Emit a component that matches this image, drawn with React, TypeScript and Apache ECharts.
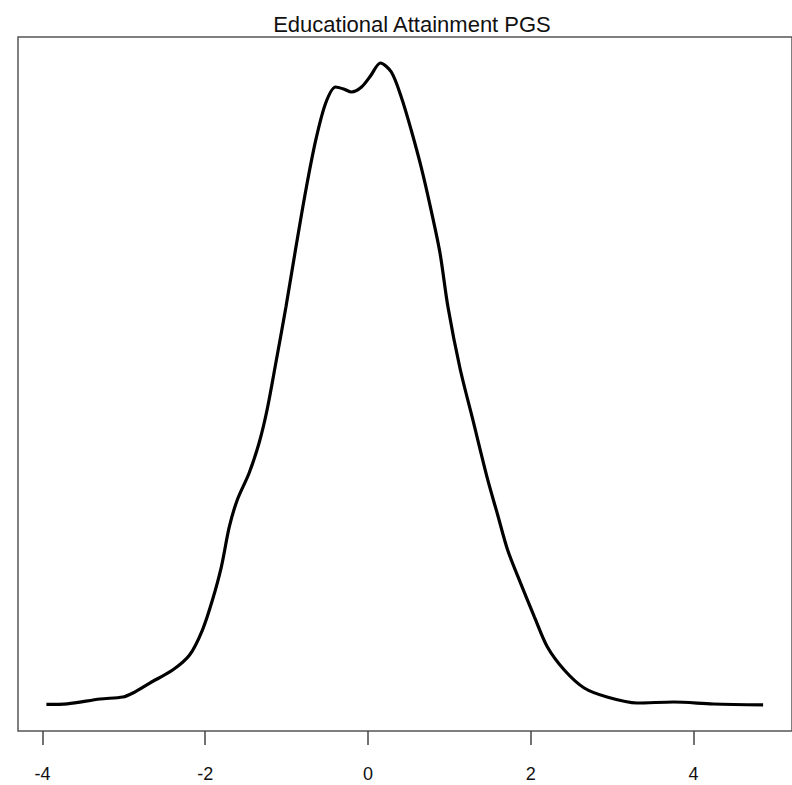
import React, { useEffect, useRef } from "react";
import * as echarts from "echarts";

const titleText = "Educational Attainment PGS";
const tickValues = [-4, -2, 0, 2, 4];
const pgsX = [
  -3.951, -3.695, -3.292, -3.011, -2.889, -2.681, -2.4, -2.192, -2.034, -1.911,
  -1.802, -1.704, -1.606, -1.46, -1.338, -1.24, -1.13, -1.008, -0.885, -0.763,
  -0.641, -0.519, -0.397, -0.299, -0.202, -0.079, 0.031, 0.153, 0.287, 0.409,
  0.531, 0.653, 0.775, 0.885, 0.983, 1.13, 1.289, 1.472, 1.594, 1.716, 1.875,
  2.046, 2.205, 2.412, 2.657, 2.938, 3.304, 3.756, 4.244, 4.855,
];
const densityY = [
  0.0006, 0.001, 0.0044, 0.0058, 0.0086, 0.0156, 0.0247, 0.0352, 0.0527, 0.0737,
  0.0968, 0.1249, 0.1438, 0.1627, 0.1837, 0.2068, 0.2404, 0.2789, 0.3209, 0.3609,
  0.3959, 0.4218, 0.433, 0.4316, 0.4295, 0.433, 0.4407, 0.4498, 0.4435, 0.426,
  0.4029, 0.377, 0.3469, 0.3167, 0.2789, 0.2362, 0.1998, 0.1578, 0.1333, 0.1088,
  0.0856, 0.0618, 0.0408, 0.0247, 0.0121, 0.0058, 0.0016, 0.0023, 0.0009, 0.0003,
];

export default function App() {
  const ref = useRef<HTMLDivElement>(null);
  useEffect(() => {
    if (!ref.current) return;
    const chart = echarts.init(ref.current, null, { renderer: "svg" });
    const data = pgsX.map((x, i) => [x, densityY[i]]);
    chart.setOption({
      animation: false,
      backgroundColor: "#ffffff",
      title: {
        text: titleText,
        left: 407,
        top: 8,
        textAlign: "center",
        textStyle: {
          fontFamily: "Liberation Sans",
          fontWeight: "normal",
          fontSize: 22,
          color: "#111",
        },
      },
      grid: {
        show: true,
        left: 18,
        top: 37,
        width: 778,
        height: 694,
        borderColor: "#555",
        borderWidth: 1.5,
        backgroundColor: "transparent",
      },
      xAxis: {
        type: "value",
        position: "bottom",
        min: -4.3,
        max: 5.21,
        axisLine: { show: false, onZero: false },
        splitLine: { show: false },
        axisTick: {
          show: true,
          inside: false,
          length: 14,
          customValues: tickValues,
          lineStyle: { color: "#444", width: 1.5 },
        },
        axisLabel: {
          show: true,
          margin: 34,
          customValues: tickValues,
          fontFamily: "Liberation Sans",
          fontSize: 18,
          color: "#111",
        },
      },
      yAxis: {
        type: "value",
        min: -0.018,
        max: 0.468,
        show: false,
        splitLine: { show: false },
      },
      series: [
        {
          type: "line",
          data,
          smooth: 0.3,
          showSymbol: false,
          lineStyle: { color: "#000", width: 3.2 },
        },
      ],
    });
    return () => chart.dispose();
  }, []);
  return (
    <div
      ref={ref}
      style={{ position: "absolute", left: 0, top: 0, width: 792, height: 785 }}
    />
  );
}
